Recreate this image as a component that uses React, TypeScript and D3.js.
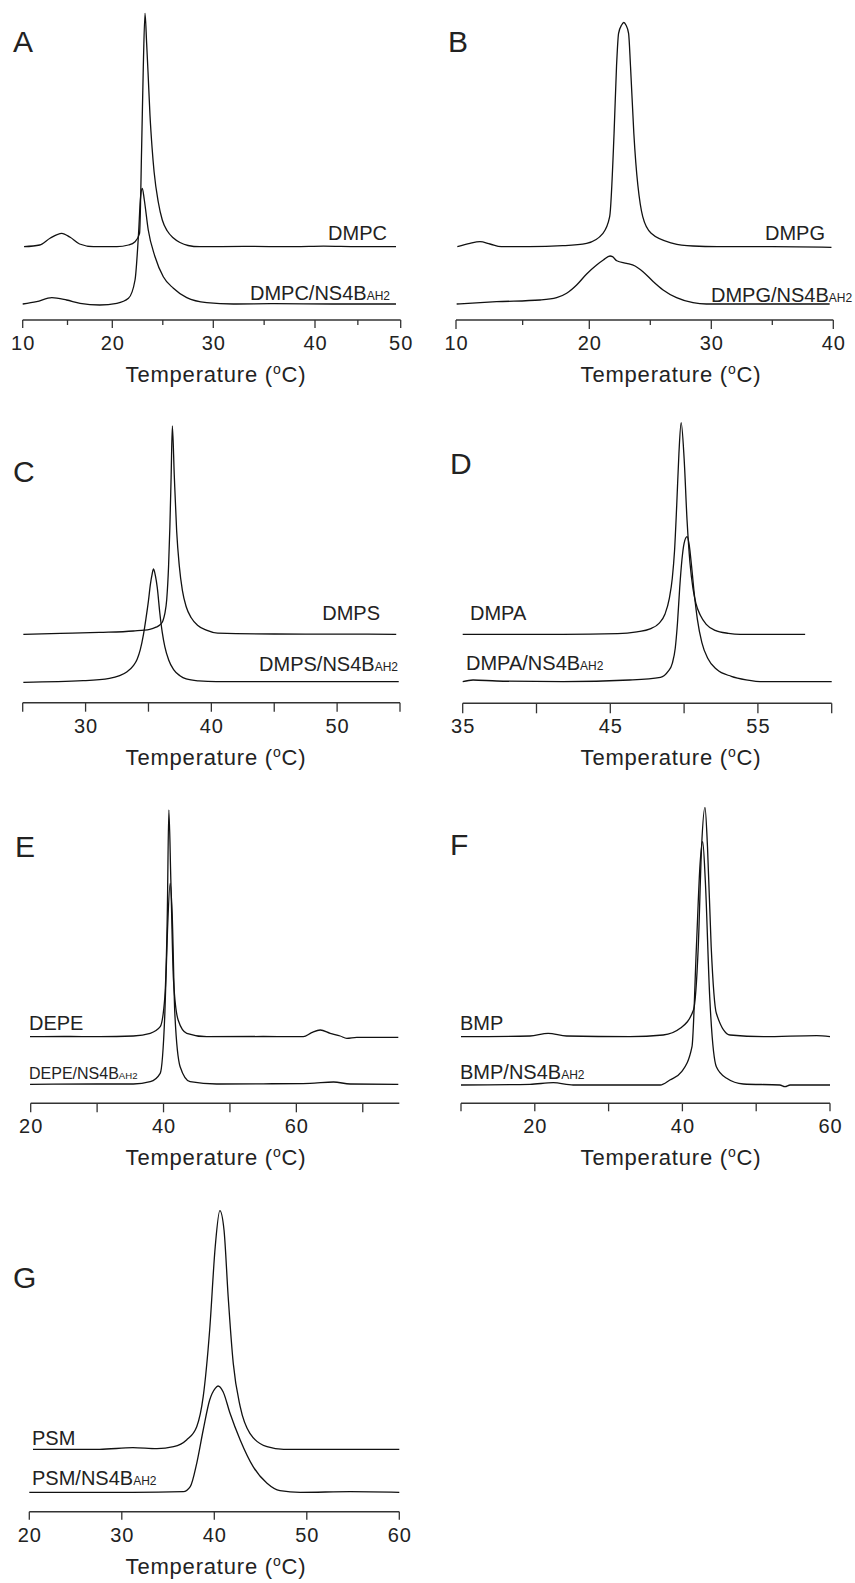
import React from "react";
import * as d3 from "d3";

// DSC thermograms, [temperature (°C), excess heat capacity (arb. units)]
const dmpc = [
  [10.15, 73.3], [11.9, 75], [13.05, 81.7], [14.35, 86.7], [15.3, 82.7], [16.35, 76], [17.9, 73.3],
  [20.45, 73.3], [21.6, 75], [22.25, 78.3], [22.7, 86.7], [22.9, 170], [23.07, 253.3], [23.24, 306.7],
  [23.4, 276.7], [23.55, 245], [23.73, 205], [23.94, 172], [24.14, 148], [24.55, 118], [24.95, 100],
  [25.45, 89], [26.05, 82], [26.7, 77.5], [27.5, 74.5], [28.65, 73.3], [33, 73.6], [38, 73.3], [41, 73.8],
  [45, 73.3], [49.45, 73.3],
];
const dmpcNs4b = [
  [10, 16], [11.55, 18.3], [13.25, 22.3], [14.9, 20], [16.4, 16.7], [18.6, 15], [20.45, 16.7], [21.6, 21.7],
  [22.25, 40], [22.6, 86.7], [22.8, 123.3], [22.97, 131.7], [23.17, 120], [23.56, 90], [24.23, 63.3],
  [25.05, 43.3], [26.05, 31.7], [27.37, 22.3], [29.35, 17.3], [31.97, 16], [36, 16.3], [42, 16], [49.45, 16],
];
const dmpg = [
  [10.1, 73.3], [11.05, 76.7], [11.8, 78.3], [12.55, 76], [13.4, 73.3], [15.5, 73.3], [18, 74.3], [19.8, 76.7],
  [21.12, 86.7], [21.67, 103.3], [22.03, 186.7], [22.23, 253.3], [22.4, 286.7], [22.65, 295], [22.83, 297.5],
  [23.0, 295], [23.22, 286.7], [23.38, 253.3], [23.65, 186.7], [24.38, 103.3], [25.07, 86.7], [26.85, 76.7],
  [28.5, 74], [30.5, 73.3], [35, 73.3], [39.85, 72.7],
];
const dmpgNs4b = [
  [10.05, 16], [13.05, 18.3], [16.3, 20], [17.55, 22.3], [18.3, 26.7], [19.05, 35], [19.8, 46], [20.6, 55],
  [21.15, 60], [21.7, 64], [21.9, 63.3], [22.25, 59.3], [23.05, 56.7], [23.75, 54], [24.4, 48.3], [25.25, 38.3],
  [26.05, 30], [27.15, 22.3], [28.5, 17.3], [29.6, 16], [35, 16], [39.7, 16],
];
const dmps = [
  [25.05, 68.4], [28, 69.3], [31.1, 70.3], [33.8, 71.7], [35.1, 73.4], [35.6, 75.5], [35.9, 77.7],
  [36.15, 82], [36.3, 89], [36.45, 103], [36.6, 137], [36.7, 175], [36.8, 225], [36.9, 276.7], [37.05, 228],
  [37.24, 172], [37.45, 137], [37.7, 112], [38.0, 96], [38.4, 85], [38.9, 77.5], [39.6, 72.5], [40.5, 69.6],
  [45, 68.7], [50, 68.6], [54.7, 68.4],
];
const dmpsNs4b = [
  [25.05, 20.4], [29.8, 22], [31.9, 24.4], [33.3, 31], [33.8, 37], [34.1, 43.5], [34.35, 53], [34.6, 68],
  [34.8, 84], [35.0, 102], [35.15, 118], [35.3, 129], [35.4, 133.7], [35.55, 127], [35.7, 115], [35.9, 90],
  [36.1, 70], [36.3, 56], [36.6, 43], [37.0, 33], [37.5, 27], [38.0, 23.8], [39, 21.8], [40.4, 21], [47, 21],
  [54.9, 21],
];
const dmpa = [
  [35, 69], [41.8, 69], [45.5, 69.6], [46.8, 71.5], [47.7, 74.5], [48.3, 80], [48.7, 89], [49.0, 105],
  [49.2, 125], [49.35, 152], [49.5, 198], [49.65, 250], [49.8, 280.6], [50.0, 245], [50.2, 183], [50.4, 140],
  [50.6, 115], [50.8, 100], [51.1, 88], [51.5, 79], [52.1, 73], [53, 70], [53.8, 69], [58.2, 69],
];
const dmpaNs4b = [
  [35, 21.6], [35.7, 23.3], [37.3, 22.3], [41.8, 21.6], [46.3, 23.3], [48.4, 26], [48.9, 31.6], [49.2, 40],
  [49.4, 55], [49.55, 80], [49.7, 115], [49.85, 143], [50.0, 160], [50.2, 166.6], [50.35, 158], [50.5, 138],
  [50.7, 108], [50.9, 84], [51.2, 61], [51.6, 45], [52.2, 34], [53.2, 27], [54.2, 23.5], [55.4, 21.6],
  [60, 21.6],
];
const depe = [
  [19.9, 66.6], [25, 66.8], [30.4, 66.6], [35.45, 67.3], [38.0, 70], [39.5, 76.6], [40.2, 106.6],
  [40.57, 190], [40.8, 293.3], [41.1, 223.3], [41.5, 123.3], [42.2, 83.3], [43.5, 70], [46.5, 66.6],
  [55, 66.8], [61.05, 66.6], [62.3, 70.6], [63.6, 73.3], [65.1, 70], [66.6, 67.3], [67.6, 65], [69.1, 66],
  [75.35, 66],
];
const depeNs4b = [
  [19.9, 19], [30, 19.3], [35.45, 19.3], [38.0, 21.6], [39.5, 30], [40.2, 90], [40.6, 173.3], [41.0, 220],
  [41.3, 190], [41.7, 90], [42.5, 36.6], [44.0, 21.6], [48.0, 19.3], [55, 19.5], [62.05, 20], [65.6, 21.3],
  [68.1, 19.3], [75.35, 19],
];
const bmp = [
  [10, 66.6], [19.35, 67.3], [21.8, 70], [24.3, 67.3], [32.9, 66.6], [37.4, 68.3], [39.7, 75], [41.5, 93.3],
  [42.15, 156.6], [42.6, 256.6], [43.06, 296], [43.4, 256.6], [43.9, 156.6], [44.6, 90], [46.45, 68.3],
  [51.0, 66.6], [58.2, 67.6], [60, 66.6],
];
const bmpNs4b = [
  [10, 18.3], [19.35, 19], [22.5, 20.6], [25.2, 18.3], [37.0, 18.3], [38.3, 23.3], [39.9, 31.6], [41.3, 56.6],
  [41.9, 156.6], [42.4, 240], [42.75, 261.6], [43.1, 223.3], [43.7, 106.6], [44.6, 36.6], [46.0, 25],
  [48.25, 19.3], [53.2, 18.3], [53.9, 16.6], [54.6, 18.3], [60, 18.3],
];
const psm = [
  [20.4, 62.4], [27.6, 62.4], [31.2, 64], [33.8, 63], [35.6, 65], [37.0, 71.7], [38.1, 85], [38.8, 115],
  [39.5, 181.7], [40.1, 265], [40.6, 301], [41.05, 281.7], [41.5, 215], [42.05, 148.3], [42.8, 105],
  [43.85, 78.3], [45.7, 65], [47.5, 62.4], [60, 62.4],
];
const psmNs4b = [
  [20, 19.4], [31.2, 19.4], [36.65, 20], [37.4, 25], [38.1, 48.4], [38.8, 81.7], [39.5, 111.7], [40.1, 123.4],
  [40.4, 125.7], [40.95, 120], [41.7, 98.4], [42.8, 71.7], [44.2, 45], [45.7, 28.4], [47.1, 21], [49.3, 19.4],
  [54.7, 20], [60, 19.4],
];

// tick values and labels per panel
const ticksA = [10, 15, 20, 25, 30, 35, 40, 45, 50];
const labelsA = [10, 20, 30, 40, 50];
const ticksB = [10, 15, 20, 25, 30, 35, 40];
const labelsB = [10, 20, 30, 40];
const ticksC = [25, 30, 35, 40, 45, 50, 55];
const labelsC = [30, 40, 50];
const ticksD = [35, 40, 45, 50, 55, 60];
const labelsD = [35, 45, 55];
const ticksE = [20, 30, 40, 50, 60, 70];
const labelsE = [20, 40, 60];
const ticksF = [10, 20, 30, 40, 50, 60];
const labelsF = [20, 40, 60];
const ticksG = [20, 30, 40, 50, 60];
const labelsG = [20, 30, 40, 50, 60];

const FONT = "'Liberation Sans', Arial, Helvetica, sans-serif";

// layout only (pixel positions on the page)
const panels = [
  {
    letter: "A", lx: 13, ly: 52, axisY: 320, xDom: [10, 20, 30, 40, 50], xRng: [22.7, 112.3, 213.3, 315, 400.7],
    ticks: ticksA, labels: labelsA, major: 8, minor: 5, titleX: 216,
    top: dmpc, bottom: dmpcNs4b, name: "DMPC", sub: "DMPC/NS4B",
    topLab: { x: 387, y: 240, anchor: "end" }, botLab: { x: 390, y: 300, anchor: "end" }, botSize: 20,
  },
  {
    letter: "B", lx: 448, ly: 52, axisY: 320, xDom: [10, 20, 40], xRng: [456, 589.3, 833.3],
    ticks: ticksB, labels: labelsB, major: 9, minor: 5, titleX: 671,
    top: dmpg, bottom: dmpgNs4b, name: "DMPG", sub: "DMPG/NS4B",
    topLab: { x: 825, y: 240, anchor: "end" }, botLab: { x: 711, y: 302, anchor: "start" }, botSize: 20,
  },
  {
    letter: "C", lx: 13, ly: 482, axisY: 702.7, xDom: [25, 55], xRng: [22.7, 400],
    ticks: ticksC, labels: labelsC, major: 9, minor: 9, titleX: 216,
    top: dmps, bottom: dmpsNs4b, name: "DMPS", sub: "DMPS/NS4B",
    topLab: { x: 380, y: 620, anchor: "end" }, botLab: { x: 398, y: 671, anchor: "end" }, botSize: 20,
  },
  {
    letter: "D", lx: 450, ly: 474, axisY: 703.3, xDom: [35, 60], xRng: [462.7, 831.7],
    ticks: ticksD, labels: labelsD, major: 10, minor: 10, titleX: 671,
    top: dmpa, bottom: dmpaNs4b, name: "DMPA", sub: "DMPA/NS4B",
    topLab: { x: 470, y: 620, anchor: "start" }, botLab: { x: 466, y: 670, anchor: "start" }, botSize: 20,
  },
  {
    letter: "E", lx: 15, ly: 857, axisY: 1103.3, xDom: [20, 75.5], xRng: [30.7, 399.3],
    ticks: ticksE, labels: labelsE, major: 9, minor: 9, titleX: 216,
    top: depe, bottom: depeNs4b, name: "DEPE", sub: "DEPE/NS4B",
    topLab: { x: 29, y: 1030, anchor: "start" }, botLab: { x: 29, y: 1079, anchor: "start" }, botSize: 16,
  },
  {
    letter: "F", lx: 450, ly: 855, axisY: 1103.3, xDom: [10, 60], xRng: [461, 830],
    ticks: ticksF, labels: labelsF, major: 8, minor: 8, titleX: 671,
    top: bmp, bottom: bmpNs4b, name: "BMP", sub: "BMP/NS4B",
    topLab: { x: 460, y: 1030, anchor: "start" }, botLab: { x: 460, y: 1079, anchor: "start" }, botSize: 20,
  },
  {
    letter: "G", lx: 13, ly: 1288, axisY: 1511.7, xDom: [20, 60], xRng: [29.3, 399.3],
    ticks: ticksG, labels: labelsG, major: 8, minor: 8, titleX: 216,
    top: psm, bottom: psmNs4b, name: "PSM", sub: "PSM/NS4B",
    topLab: { x: 32, y: 1445, anchor: "start" }, botLab: { x: 32, y: 1485, anchor: "start" }, botSize: 20,
  },
];

function Panel({ p }) {
  const x = d3.scaleLinear().domain(p.xDom).range(p.xRng);
  // one unit of heat capacity = one pixel above the axis
  const y = d3.scaleLinear().domain([0, 320]).range([p.axisY, p.axisY - 320]);
  const line = d3
    .line()
    .x((d) => x(d[0]))
    .y((d) => y(d[1]))
    .curve(d3.curveMonotoneX);
  const x0 = p.xRng[0];
  const x1 = p.xRng[p.xRng.length - 1];

  return (
    <g>
      <text x={p.lx} y={p.ly} fontSize={30} fill="#222">{p.letter}</text>

      <path d={line(p.top)} fill="none" stroke="#111" strokeWidth={1.3} />
      <path d={line(p.bottom)} fill="none" stroke="#111" strokeWidth={1.3} />

      <text x={p.topLab.x} y={p.topLab.y} fontSize={20} textAnchor={p.topLab.anchor} fill="#222">
        {p.name}
      </text>
      <text x={p.botLab.x} y={p.botLab.y} fontSize={p.botSize} textAnchor={p.botLab.anchor} fill="#222">
        {p.sub}
        <tspan fontSize={p.botSize * 0.6}>AH2</tspan>
      </text>

      <line x1={x0} x2={x1} y1={p.axisY} y2={p.axisY} stroke="#333" strokeWidth={1.5} />
      {p.ticks.map((t) => (
        <line
          key={t}
          x1={x(t)}
          x2={x(t)}
          y1={p.axisY}
          y2={p.axisY + (p.labels.includes(t) ? p.major : p.minor)}
          stroke="#333"
          strokeWidth={1.3}
        />
      ))}
      {p.labels.map((t) => (
        <text key={t} x={x(t) + 0.5} y={p.axisY + 30} fontSize={20} letterSpacing={1} textAnchor="middle" fill="#222">
          {t}
        </text>
      ))}
      <text x={p.titleX} y={p.axisY + 62} fontSize={22} letterSpacing={0.8} textAnchor="middle" fill="#222">
        Temperature (<tspan fontSize={14} dy={-8}>o</tspan>
        <tspan dy={8}>C)</tspan>
      </text>
    </g>
  );
}

export default function App() {
  return (
    <svg
      width={855}
      height={1583}
      style={{ position: "absolute", left: 0, top: 0, background: "#fff" }}
      fontFamily={FONT}
    >
      <rect width={855} height={1583} fill="#fff" />
      {panels.map((p) => (
        <Panel key={p.letter} p={p} />
      ))}
    </svg>
  );
}
